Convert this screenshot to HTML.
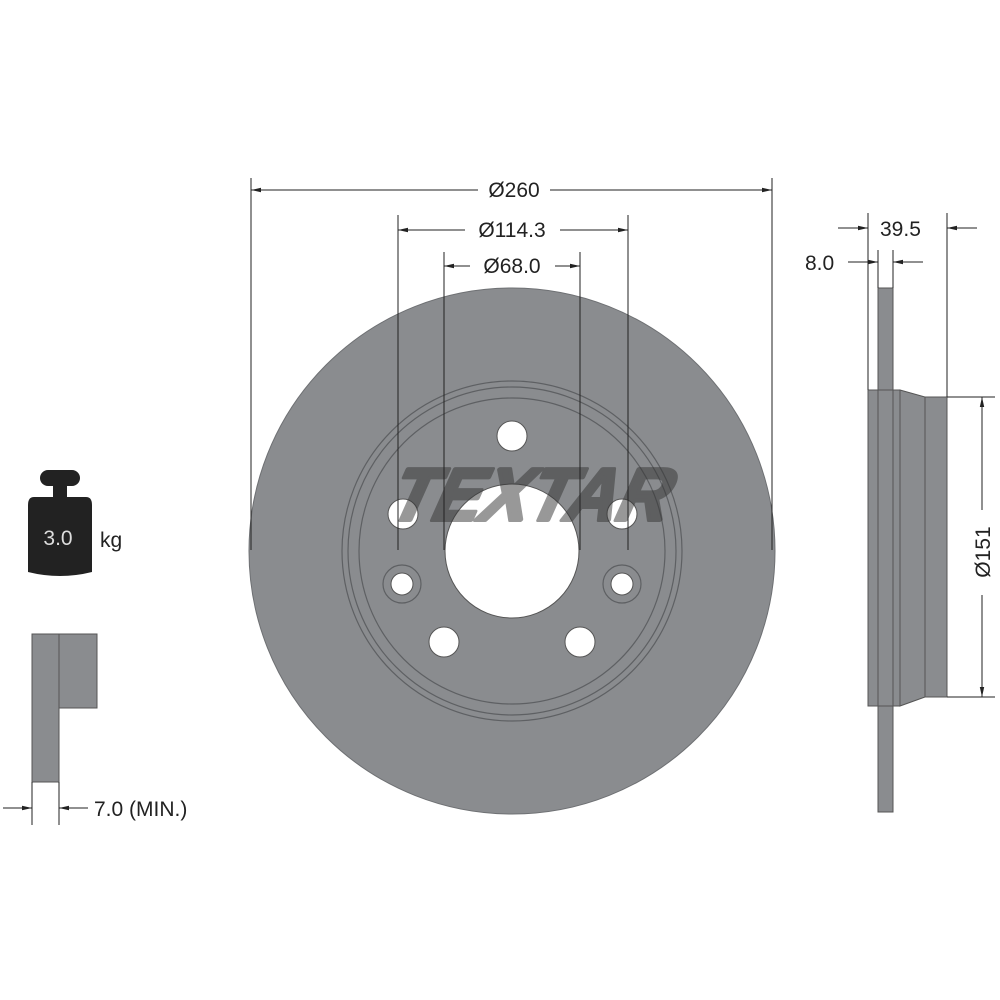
<!DOCTYPE html>
<html><head><meta charset="utf-8"><style>
html,body{margin:0;padding:0;background:#fff;}
svg{display:block;}
text{font-family:"Liberation Sans",Arial,sans-serif;}
</style></head><body>
<svg width="1000" height="1000" viewBox="0 0 1000 1000" xmlns="http://www.w3.org/2000/svg">
<defs>
<marker id="a" viewBox="0 0 10 6" refX="10" refY="3" markerWidth="10" markerHeight="6" orient="auto-start-reverse" markerUnits="userSpaceOnUse"><path d="M0,0.8 L10,3 L0,5.2z" fill="#222"/></marker>
</defs>
<circle cx="512" cy="551" r="263" fill="#8a8c8f" stroke="#6e7073" stroke-width="1"/>
<g fill="none" stroke="#5e6063" stroke-width="1.2">
<circle cx="512" cy="551" r="170"/>
<circle cx="512" cy="551" r="164"/>
<circle cx="512" cy="551" r="153"/>
<circle cx="402" cy="584" r="19"/>
<circle cx="622" cy="584" r="19"/>
</g>
<g fill="#fff" stroke="#555" stroke-width="1">
<circle cx="512" cy="551" r="67"/>
<circle cx="512" cy="436" r="15"/>
<circle cx="403" cy="514" r="15"/>
<circle cx="622" cy="514" r="15"/>
<circle cx="444" cy="642" r="15"/>
<circle cx="580" cy="642" r="15"/>
<circle cx="402" cy="584" r="11"/>
<circle cx="622" cy="584" r="11"/>
</g>
<g opacity="0.5">
<text x="0" y="0" transform="translate(384,520) skewX(-24)" font-size="74" font-weight="bold" fill="#333" stroke="#333" stroke-width="4" stroke-linejoin="round" textLength="278" lengthAdjust="spacingAndGlyphs" font-family="Liberation Sans">TEXTAR</text>
</g>
<g stroke="#222" stroke-width="1" fill="none">
<line x1="251" y1="178" x2="251" y2="550"/>
<line x1="772" y1="178" x2="772" y2="550"/>
<line x1="398" y1="215" x2="398" y2="550"/>
<line x1="628" y1="215" x2="628" y2="550"/>
<line x1="444" y1="252" x2="444" y2="550"/>
<line x1="580" y1="252" x2="580" y2="550"/>
<line x1="478" y1="190" x2="251" y2="190" marker-end="url(#a)"/>
<line x1="550" y1="190" x2="772" y2="190" marker-end="url(#a)"/>
<line x1="465" y1="230" x2="398" y2="230" marker-end="url(#a)"/>
<line x1="560" y1="230" x2="628" y2="230" marker-end="url(#a)"/>
<line x1="470" y1="266" x2="444" y2="266" marker-end="url(#a)"/>
<line x1="555" y1="266" x2="580" y2="266" marker-end="url(#a)"/>
</g>
<g font-size="21" fill="#222" text-anchor="middle">
<text x="514" y="197">Ø260</text>
<text x="512" y="237">Ø114.3</text>
<text x="512" y="273">Ø68.0</text>
</g>
<g fill="#8a8c8f" stroke="#555" stroke-width="1">
<rect x="878" y="288" width="15" height="524"/>
<rect x="868" y="390" width="32" height="316"/>
<polygon points="900,390 925,397 925,697 900,706"/>
<rect x="925" y="397" width="22" height="300"/>
</g>
<line x1="878" y1="390" x2="878" y2="706" stroke="#555"/>
<line x1="893" y1="390" x2="893" y2="706" stroke="#555"/>
<g stroke="#222" stroke-width="1" fill="none">
<line x1="868" y1="213" x2="868" y2="390"/>
<line x1="947" y1="213" x2="947" y2="397"/>
<line x1="878" y1="250" x2="878" y2="288"/>
<line x1="893" y1="250" x2="893" y2="288"/>
<line x1="838" y1="228" x2="868" y2="228" marker-end="url(#a)"/>
<line x1="977" y1="228" x2="947" y2="228" marker-end="url(#a)"/>
<line x1="848" y1="262" x2="878" y2="262" marker-end="url(#a)"/>
<line x1="923" y1="262" x2="893" y2="262" marker-end="url(#a)"/>
<line x1="947" y1="397" x2="995" y2="397"/>
<line x1="947" y1="697" x2="995" y2="697"/>
<line x1="982" y1="510" x2="982" y2="397" marker-end="url(#a)"/>
<line x1="982" y1="595" x2="982" y2="697" marker-end="url(#a)"/>
</g>
<g font-size="21" fill="#222">
<text x="880" y="236">39.5</text>
<text x="805" y="270">8.0</text>
<text x="0" y="0" transform="translate(990,552) rotate(-90)" text-anchor="middle">Ø151</text>
</g>
<g fill="#222">
<rect x="40" y="470" width="40" height="16" rx="8"/>
<rect x="53" y="484" width="14" height="14"/>
<path d="M34,497 L86,497 Q92,497 92,505 L92,572 Q60,580 28,572 L28,505 Q28,497 34,497z"/>
</g>
<text x="58" y="545" font-size="21" fill="#ddd" text-anchor="middle">3.0</text>
<text x="100" y="547" font-size="21" fill="#222">kg</text>
<g fill="#8a8c8f" stroke="#555" stroke-width="1">
<rect x="32" y="634" width="27" height="148"/>
<rect x="59" y="634" width="38" height="74"/>
</g>
<g stroke="#222" stroke-width="1" fill="none">
<line x1="32" y1="782" x2="32" y2="825"/>
<line x1="59" y1="782" x2="59" y2="825"/>
<line x1="3" y1="808" x2="32" y2="808" marker-end="url(#a)"/>
<line x1="88" y1="808" x2="59" y2="808" marker-end="url(#a)"/>
</g>
<text x="94" y="816" font-size="21" fill="#222">7.0 (MIN.)</text>
</svg>
</body></html>
